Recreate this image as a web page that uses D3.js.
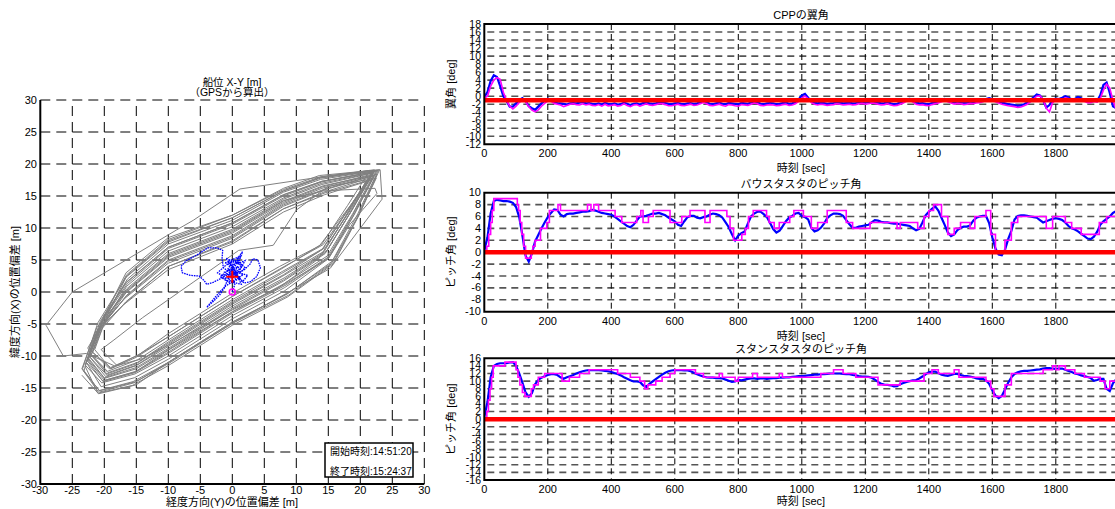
<!DOCTYPE html>
<html><head><meta charset="utf-8">
<script src="https://cdn.jsdelivr.net/npm/d3@7"></script>
<style>
body{margin:0;background:#fff;}
svg{display:block;font-family:"Liberation Sans",Arial,"Noto Sans CJK JP",sans-serif;}
</style></head><body>
<svg id="chart" width="1115" height="509"></svg>
<script>
// ===== XY position plot data =====
const posTicks = [-30,-25,-20,-15,-10,-5,0,5,10,15,20,25,30];
const posTickLabels = ["-30","-25","-20","-15","-10","-5","0","5","10","15","20","25","30"];

// gray reference tracks: one array of [Y, X] vertices per lap
const grayLaps = [
 [[-20,-13.5],[-22.5,-10.5],[-20.5,-5],[-16.5,0.5],[-10,6],[0,9.8],[8,14.5],[14,16.8],[22,18.6],[18.5,12.5],[14.5,6],[8,1.7],[0,-2.7],[-10,-9],[-15,-12],[-20,-13.5]],
 [[-19,-12],[-21.5,-9],[-19.5,-3.5],[-16.5,2.5],[-10,8],[0,11.6],[8,15.8],[13.5,17.8],[21.5,19],[18,13.5],[14,7.5],[7.5,3.5],[0,-0.7],[-10,-7],[-15,-10.2],[-19,-12]],
 [[-21,-15.5],[-23.5,-12],[-21.5,-6.5],[-16.5,-1.5],[-10,4],[0,8],[8,13],[14.5,15.5],[22.5,17.8],[19.5,11.5],[15.5,4.5],[8.5,-0.3],[0,-4.7],[-10,-11],[-15,-14],[-21,-15.5]],
 [[-20.5,-14.8],[-22.8,-11],[-20.6,-4.5],[-16.6,1.5],[-10,7],[0,10.8],[8,15.2],[14,17.3],[22.4,18.8],[19,12],[15,5.2],[8.2,0.2],[0,-4.2],[-10,-10.5],[-15.3,-13.4],[-20.5,-14.8]],
 [[-19.5,-12.4],[-22,-9.8],[-20.5,-5.5],[-16.5,-0.5],[-10,5],[0,8.8],[8,13.8],[14,16.2],[21.6,18.2],[18,12.8],[14.2,6.8],[7.8,3.2],[0,-1.2],[-10,-7.5],[-14.8,-10.6],[-19.5,-12.4]],
 [[-21,-15.8],[-23,-11.6],[-20.2,-4.2],[-16.6,3],[-10,8.5],[0,12],[8,16.2],[13.6,18.2],[23,19.1],[19.8,12],[15.8,4.4],[8.6,-0.8],[0,-5.2],[-10,-11.5],[-15.6,-14.6],[-21,-15.8]],
 [[-19,-11.8],[-22.6,-8.8],[-21,-6],[-17,-2],[-10,3.5],[0,7.5],[8,12.5],[14.4,15.2],[21.4,17.4],[17.6,12.4],[13.6,7.2],[7.4,4],[0,-0.2],[-10,-6.5],[-14.6,-9.8],[-19,-11.8]],
 [[-19.6,-12.8],[-22.2,-9.6],[-20,-4],[-16.4,2],[-10,7.5],[0,11.2],[8,15.6],[13.8,17.6],[22.2,18.9],[18.6,13],[14.6,7],[8,2.7],[0,-1.7],[-10,-8],[-15,-11.2],[-19.6,-12.8]],
 [[-20.4,-14.2],[-23,-11.4],[-21,-5.8],[-16.8,-1],[-10,4.5],[0,8.4],[8,13.4],[14.2,15.9],[22.2,18.2],[18.8,12],[14.8,5.2],[8.2,0.7],[0,-3.7],[-10,-10],[-15.2,-12.8],[-20.4,-14.2]],
 [[-20.2,-14],[-22.6,-10.8],[-20.4,-4.6],[-16.4,1.3],[-10,6.8],[0,10.6],[8,15],[14,17.2],[22.6,18.9],[19.2,12.4],[15.2,5.6],[8.4,1.1],[0,-3.3],[-10,-9.6],[-15.2,-12.6],[-20.2,-14]],
 [[-19.6,-13],[-22.2,-10.2],[-20.4,-5.4],[-16.6,-0.1],[-10,5.4],[0,9.2],[8,14],[14,16.4],[21.8,18.4],[18.2,12.6],[14.4,6.4],[7.9,2.5],[0,-1.9],[-10,-8.2],[-14.9,-11.4],[-19.6,-13]],
 [[-20.8,-15.4],[-23.4,-12],[-21,-4.8],[-16.6,2.3],[-10,7.8],[0,11.6],[8,15.8],[13.8,17.8],[22.8,19],[19.6,12.2],[15.6,4.8],[8.6,-0.3],[0,-4.7],[-10,-11],[-15.5,-14],[-20.8,-15.4]],
 [[-19.4,-12.6],[-22.4,-9.6],[-20.8,-6.2],[-16.6,-1.5],[-10,4],[0,7.8],[8,13],[14.3,15.6],[21.4,17.8],[17.8,12.4],[14,6.6],[7.7,2.9],[0,-1.5],[-10,-7.8],[-14.8,-11],[-19.4,-12.6]],
 [[-19.2,-12],[-21.8,-9.4],[-20,-4.8],[-16.5,0.9],[-10,6.4],[0,10.2],[8,14.7],[14,17],[21.8,18.6],[18.2,13],[14.2,7.4],[7.6,3.7],[0,-0.7],[-10,-7],[-15,-10],[-19.2,-12]],
 [[-20.6,-15.6],[-23.2,-12.4],[-21.2,-5.6],[-16.5,0.1],[-10,5.6],[0,9.4],[8,14.2],[14.2,16.6],[22.6,18.4],[19.6,11.8],[15.8,4.6],[8.8,-0.5],[0,-4.9],[-10,-11.2],[-15.4,-14.2],[-20.6,-15.6]],
 [[-19.8,-13.2],[-22.4,-10],[-20,-3.6],[-16.5,2.7],[-10,8.2],[0,12],[8,16],[13.8,18],[22.2,19.1],[18.8,13],[14.8,6.5],[8.1,2.2],[0,-2.2],[-10,-8.5],[-15,-11.5],[-19.8,-13.2]],
 [[-20,-13.4],[-22.5,-10.3],[-20.4,-4.4],[-16.5,1.5],[-10,7],[0,10.8],[8,15.2],[14,17.3],[22.2,18.8],[18.7,12.8],[14.6,6.2],[8,1.9],[0,-2.5],[-10,-8.8],[-15,-11.8],[-20,-13.4]],
 [[-20.2,-13.9],[-22.8,-11],[-20.8,-5.8],[-16.6,-0.7],[-10,4.8],[0,8.6],[8,13.6],[14.2,16],[22,18.2],[18.8,12.2],[14.8,5.6],[8.1,1.3],[0,-3.1],[-10,-9.4],[-15.1,-12.4],[-20.2,-13.9]],
 [[-18,-11.5],[-20.5,-9],[-18.5,-7.5],[-14,-4],[-6,1.6],[1,6.5],[6.4,7.3],[10,12.8],[15,16.5],[21,17.5],[17.5,11.5],[13.5,5.2],[7,0.5],[0,-2.8],[-9,-7.8],[-14,-10.4],[-18,-11.5]],
 [[-18.5,-11.5],[-22.8,-9.6],[-26.4,-10],[-29.1,-5.2],[-25,0],[-8.7,9.7],[-6.1,11.2],[1.2,16.1],[14.7,18.1],[23.1,19.1],[23.4,14.5],[15.3,3.7],[8.5,-0.2],[0,-4.9],[-10,-11],[-15,-14.5],[-20.9,-15.9],[-23.5,-13]],
 [[-20,-13.8],[-22.6,-10.6],[-20.6,-5.4],[-16.6,0.2],[-10,5.8],[0,9.6],[8,14.3],[14.2,15.8],[22.3,16.2],[22.6,15.4],[18.4,10.6],[15,5.2],[8.2,1.2],[0,-3.1],[-10,-9.1],[-15.2,-12.5],[-20,-13.8]]
];

// own-ship track [Y, X]
const shipTrack = [[0,0],[0.4,1.2],[-0.5,2.0],[0.8,2.8],[-0.3,3.5],[1.2,2.2],[0.2,1.6],[-1.0,1.0],[-2.0,-0.5],[-3.0,-1.5],[-4.0,-2.4],[-2.5,-0.6],[-1.2,0.8],[-0.6,2.2],[0.6,3.6],[1.5,4.2],[0.8,5.2],[1.6,6.3],[1.0,4.6],[2.0,3.8],[1.2,3.0],[2.4,2.6],[1.6,1.6],[0.4,2.6],[-0.8,3.4],[-0.2,4.4],[0.6,3.0],[-1.6,2.6],[-0.9,1.8],[1.4,1.2],[0.2,3.9],[-1.2,4.6],[0.9,4.8],[-0.4,2.9],
 [0.5,2.1],[-1.2,3.1],[0.9,3.9],[-0.7,4.8],[1.3,5.6],[0.1,4.0],[-1.9,2.4],[-0.4,1.4],[1.7,2.7],[0.3,3.3],[-1.0,5.3],[0.8,4.4],[2.0,4.9],[1.1,3.3],[-0.8,2.1],[-2.3,3.0],[-1.1,4.1],[0.4,5.0],[1.5,3.9],[-0.2,2.6],
 [1.8,3.4],[2.8,4.4],[3.2,5.2],[4.0,5.0],[4.4,3.8],[3.8,2.4],[2.8,1.6],[1.8,1.4],[1.0,2.4],[-0.4,3.0],[-1.4,3.8],[-1.6,5.2],[-1.5,6.5],[-2.4,6.9],[-3.8,6.9],[-5.5,5.8],[-7.2,4.9],[-8.0,4.0],[-7.8,3.0],[-6.6,2.6],[-5.2,2.5],[-4.4,1.8],[-4.0,1.2],[-3.0,1.5],[-2.0,2.0],[-1.0,2.6],[0.0,2.4]];
const meanPos = [0, 2.4];
const startPos = [0, 0];
const startTime = "開始時刻:14:51:20";
const endTime = "終了時刻:15:24:37";

// ===== time series data =====
const timeTicks = [0,200,400,600,800,1000,1200,1400,1600,1800];
const sampleTimes = d3.range(0, 2000, 10);

const cppTicks = [18,16,14,12,10,8,6,4,2,0,-2,-4,-6,-8,-10,-12];
const cppMeasured = [-0.2,1.0,3.8,5.2,4.8,2.5,0.0,-1.2,-2.6,-2.6,-1.8,-1.0,-0.5,-1.2,-2.5,-3.0,-3.4,-2.6,-1.8,-1.2,
-0.6,-0.8,-1.5,-1.7,-1.8,-1.9,-2.1,-1.8,-1.7,-1.8,-1.6,-1.5,-1.8,-1.7,-1.9,-2.0,-1.8,-2.1,-1.7,-1.9,
-2.0,-1.8,-2.1,-2.0,-1.6,-1.9,-2.2,-1.9,-1.8,-2.1,-1.7,-1.6,-1.8,-1.9,-1.8,-1.6,-1.5,-1.7,-1.9,-2.0,
-1.8,-1.7,-1.9,-2.0,-1.8,-1.7,-1.9,-1.8,-1.6,-1.2,-1.5,-1.9,-2.0,-1.8,-1.6,-1.9,-2.0,-1.7,-1.8,-1.9,
-2.0,-1.7,-1.8,-1.9,-1.6,-1.3,-1.5,-1.9,-2.0,-1.8,-1.7,-1.8,-2.0,-1.9,-1.7,-1.6,-1.9,-1.8,-1.5,-0.8,
0.2,0.6,-0.4,-1.2,-1.6,-1.8,-1.6,-1.7,-1.9,-1.8,-1.7,-1.5,-1.6,-1.8,-1.7,-1.6,-1.8,-1.7,-1.5,-1.4,
-1.6,-1.5,-1.3,-1.4,-1.6,-1.8,-1.7,-1.5,-1.8,-2.0,-1.9,-1.6,-1.3,-0.8,-0.7,-1.2,-1.6,-1.8,-1.7,-1.9,
-2.0,-1.7,-1.5,-1.3,-1.0,-0.7,-1.0,-1.3,-1.6,-1.4,-1.5,-1.7,-1.6,-1.4,-1.5,-1.3,-1.2,-1.0,-0.7,-0.5,
-0.7,-1.0,-1.3,-1.6,-1.8,-2.0,-2.1,-2.2,-2.4,-2.3,-2.0,-1.6,-1.0,-0.3,0.4,0.2,-1.0,-2.8,-2.2,-0.8,
-0.6,-0.7,-0.4,0.0,-0.3,-0.8,-0.7,-0.2,-0.5,-1.0,-1.3,-1.2,-0.9,-1.2,0.2,2.8,3.4,0.8,-2.5,-3.0];
const cppCommand = [-0.5,0.0,2.5,4.0,4.6,4.2,1.0,-1.0,-2.5,-3.2,-2.5,-1.6,-1.0,-1.4,-2.6,-3.5,-3.9,-3.4,-2.5,-1.8,
-1.2,-1.3,-1.8,-2.0,-2.2,-2.6,-2.3,-2.0,-1.9,-2.1,-2.2,-1.9,-2.2,-2.0,-2.3,-2.4,-2.1,-2.5,-2.0,-2.4,
-2.3,-2.1,-2.5,-2.3,-1.9,-2.3,-2.6,-2.2,-2.1,-2.5,-2.2,-1.9,-2.2,-2.3,-2.1,-1.9,-1.9,-2.1,-2.4,-2.4,
-2.2,-2.0,-2.3,-2.4,-2.2,-2.0,-2.3,-2.2,-1.9,-1.6,-1.9,-2.3,-2.4,-2.2,-2.0,-2.3,-2.5,-2.1,-2.2,-2.4,
-2.5,-2.1,-2.2,-2.3,-2.0,-1.7,-1.9,-2.3,-2.4,-2.2,-2.1,-2.2,-2.4,-2.3,-2.1,-2.0,-2.3,-2.2,-1.9,-1.3,
-0.4,0.0,-0.6,-1.6,-2.0,-2.2,-2.0,-2.1,-2.3,-2.2,-2.1,-1.9,-2.0,-2.2,-2.1,-2.0,-2.2,-2.1,-1.9,-1.8,
-2.0,-1.9,-1.7,-1.8,-2.0,-2.2,-2.1,-1.9,-2.2,-2.4,-2.3,-2.0,-1.7,-1.2,-1.0,-1.5,-2.0,-2.2,-2.1,-2.3,
-2.4,-2.1,-1.9,-1.7,-1.4,-1.1,-1.4,-1.7,-2.0,-1.8,-1.9,-2.1,-2.0,-1.8,-1.9,-1.7,-1.6,-1.4,-1.1,-0.9,
-1.1,-1.4,-1.7,-2.0,-2.2,-2.4,-2.5,-2.6,-2.8,-2.7,-2.4,-2.0,-1.4,-0.7,0.0,0.1,-0.8,-3.0,-3.9,-1.6,
-1.0,-1.1,-0.8,-0.4,-0.6,-1.1,-1.1,-0.6,-0.8,-1.3,-1.6,-1.6,-1.3,-1.5,-0.6,1.5,3.0,2.0,-1.0,-3.4];
const cppReference = -1;

const bowTicks = [10,8,6,4,2,0,-2,-4,-6,-8,-10];
const bowMeasured = [0.3,2.5,6.5,8.6,8.8,8.7,8.6,8.6,8.5,8.3,7.6,5.9,2.8,-0.6,-1.6,-0.2,1.8,2.9,4.0,5.0,
5.9,6.6,7.2,7.1,6.3,6.0,6.4,6.5,6.5,6.6,6.7,6.8,6.8,6.9,7.1,7.0,6.8,6.6,6.5,6.4,
6.3,6.0,5.6,5.2,4.8,4.4,4.2,4.6,5.3,6.0,6.0,6.1,6.3,6.5,6.5,6.6,6.4,6.2,5.8,5.5,
5.2,4.6,4.4,5.2,5.9,6.1,6.1,5.8,5.7,5.9,6.0,6.3,6.5,6.4,6.2,5.8,5.0,4.2,3.0,2.0,
2.8,3.2,3.5,4.8,6.0,6.5,6.8,6.8,6.4,5.9,4.9,3.9,3.3,3.6,4.4,5.2,5.8,6.1,6.5,6.6,
6.1,5.9,5.5,4.1,3.5,3.7,4.1,4.8,5.7,6.2,6.5,6.5,6.4,6.1,5.4,4.7,4.1,4.1,4.3,4.4,
4.5,4.6,5.0,5.4,5.3,5.1,5.0,5.0,4.9,4.8,4.8,4.7,4.6,4.5,4.4,4.0,3.7,3.9,5.0,6.2,
6.8,7.3,7.7,7.0,5.8,4.6,3.3,2.7,3.0,3.7,4.1,4.3,4.3,4.5,5.3,5.8,6.0,6.1,6.1,4.9,
2.5,0.6,-0.4,-0.5,0.4,2.2,3.6,5.5,6.1,6.2,6.2,6.1,6.0,5.9,5.8,5.4,5.0,5.2,5.4,5.6,
5.7,5.6,5.4,5.0,4.4,4.0,3.8,3.5,3.1,2.7,2.3,2.2,2.6,3.4,4.6,5.2,5.6,6.0,6.6,6.9];
const bowCommand = [[0,0],[8,1],[14,3],[20,5],[25,7],[30,9],[104,8],[108,7],[113,5],[118,3],[124,1],[130,-1],[148,0],[153,1],[160,2],[177,4],[197,5],[205,7],[232,8],[240,7],[325,8],[336,7],[345,8],[360,7],[412,6],[433,5],[480,6],[493,7],[500,5],[517,6],[532,7],[585,5],[622,6],[648,7],[695,5],[711,7],[764,6],[774,4],[785,2],[811,3],[822,4],[832,6],[847,7],[889,6],[897,5],[913,4],[929,5],[962,6],[975,7],[1005,6],[1030,4],[1050,5],[1080,7],[1140,5],[1160,4],[1215,5],[1300,4],[1310,5],[1365,4],[1385,6],[1400,7],[1415,8],[1440,6],[1460,3],[1480,4],[1500,5],[1530,4],[1545,6],[1580,7],[1595,3],[1610,0],[1640,2],[1660,5],[1680,6],[1770,4],[1790,6],[1830,5],[1850,4],[1880,3],[1937,5],[1960,6],[1995,6]];
const bowReference = 0;

const sternTicks = [16,14,12,10,8,6,4,2,0,-2,-4,-6,-8,-10,-12,-14,-16];
const sternMeasured = [0.6,4.5,11.0,14.0,14.5,14.7,14.7,14.7,14.9,15.0,14.0,12.0,9.6,7.0,5.9,6.8,9.2,10.3,10.9,11.3,
11.6,11.8,11.8,11.6,11.0,10.6,11.0,11.3,11.6,12.0,12.3,12.6,12.8,12.9,12.9,12.9,12.9,12.8,12.7,12.6,
12.4,12.1,11.9,11.5,11.0,10.6,10.2,9.9,9.9,9.8,8.9,8.5,9.3,9.9,10.5,11.1,11.7,12.2,12.6,12.8,
12.9,12.9,12.9,12.8,12.8,12.6,12.2,11.8,11.5,11.2,11.0,10.9,10.9,10.8,10.8,10.7,10.4,10.1,9.8,9.9,
10.3,10.2,10.4,10.6,10.7,10.7,10.6,10.7,10.7,10.6,10.7,10.8,10.8,10.9,10.9,11.0,11.0,11.1,11.2,11.3,
11.3,11.4,11.5,11.6,11.7,11.7,11.8,11.8,11.9,12.0,12.0,12.0,12.0,11.9,11.8,11.8,11.6,11.5,11.3,11.2,
11.2,11.1,10.9,10.4,9.8,9.3,9.1,9.0,8.9,8.6,8.7,9.2,9.5,9.8,10.0,10.2,10.3,10.7,11.2,11.8,
12.3,12.5,12.5,12.1,11.7,11.5,11.4,11.6,11.9,11.9,11.6,11.4,11.3,11.2,11.0,10.7,10.6,10.6,10.2,9.3,
7.6,6.2,5.5,6.1,7.8,9.6,11.0,11.9,12.3,12.6,12.7,12.7,12.8,12.9,13.0,13.1,13.3,13.4,13.4,13.3,
13.2,13.3,13.3,13.0,12.7,12.4,12.0,11.8,11.5,11.3,11.1,10.8,10.1,10.3,10.6,10.6,8.0,7.4,9.4,10.5];
const sternCommand = [[0,0],[8,2],[13,5],[18,8],[23,11],[28,14],[65,15],[100,13],[106,11],[112,9],[120,7],[128,6],[148,8],[155,9],[170,11],[190,12],[245,10],[268,11],[300,12],[330,13],[420,12],[460,11],[490,10],[505,8],[515,9],[540,10],[560,11],[585,12],[600,13],[665,12],[690,11],[740,12],[750,11],[790,10],[800,11],[845,12],[860,11],[929,12],[939,11],[1060,12],[1100,13],[1130,12],[1170,11],[1240,9],[1310,10],[1385,12],[1410,13],[1430,12],[1480,13],[1495,11],[1580,10],[1595,8],[1605,6],[1640,9],[1660,12],[1760,13],[1790,14],[1800,13],[1810,14],[1830,13],[1860,12],[1890,11],[1940,10],[1955,8],[1970,10],[1995,10]];
const sternReference = 0;

// ===== drawing =====
const svg = d3.select("#chart");
svg.append("rect").attr("width", 1115).attr("height", 509).attr("fill", "#fff");

// ---- XY position plot ----
const xs = d3.scaleLinear().domain([-30, 30]).range([40.3, 424.3]);
const ys = d3.scaleLinear().domain([-30, 30]).range([484, 100]);
const gL = svg.append("g");

gL.selectAll("line.gv").data(posTicks.slice(1)).join("line").attr("class", "gv")
  .attr("x1", d => xs(d)).attr("x2", d => xs(d)).attr("y1", ys(-30)).attr("y2", ys(30))
  .attr("stroke", "#000").attr("stroke-width", 1).attr("stroke-dasharray", "10,6");
gL.selectAll("line.gh").data(posTicks.slice(1)).join("line").attr("class", "gh")
  .attr("y1", d => ys(d)).attr("y2", d => ys(d)).attr("x1", xs(-30)).attr("x2", xs(30))
  .attr("stroke", "#000").attr("stroke-width", 1).attr("stroke-dasharray", "10,6");

const xyLine = d3.line().x(d => xs(d[0])).y(d => ys(d[1]));
gL.selectAll("path.lap").data(grayLaps).join("path").attr("class", "lap")
  .attr("d", xyLine).attr("fill", "none").attr("stroke", "#808080").attr("stroke-width", 1);

gL.append("path").datum(shipTrack).attr("d", xyLine).attr("fill", "none")
  .attr("stroke", "#0000ff").attr("stroke-width", 1.3).attr("stroke-dasharray", "1.6,0.9");

gL.append("circle").attr("cx", xs(startPos[0])).attr("cy", ys(startPos[1])).attr("r", 3)
  .attr("fill", "none").attr("stroke", "#ff00ff").attr("stroke-width", 1.6);
const mx = xs(meanPos[0]), my = ys(meanPos[1]);
gL.append("path").attr("d", `M${mx - 6},${my}H${mx + 6}M${mx},${my - 6}V${my + 6}`)
  .attr("stroke", "#ff0000").attr("stroke-width", 2);

// axes lines
gL.append("path").attr("d", `M${xs(-30)},${ys(30)}V${ys(-30)}H${xs(30)}`)
  .attr("fill", "none").attr("stroke", "#000").attr("stroke-width", 2);

gL.selectAll("text.yl").data(posTicks).join("text").attr("class", "yl")
  .attr("x", 37).attr("y", d => ys(d) + 4).attr("text-anchor", "end")
  .attr("font-size", 11).text((d, i) => posTickLabels[i]);
gL.selectAll("text.xl").data(posTicks).join("text").attr("class", "xl")
  .attr("x", d => xs(d)).attr("y", 494).attr("text-anchor", "middle")
  .attr("font-size", 11).text((d, i) => posTickLabels[i]);

gL.append("text").attr("x", 232).attr("y", 86).attr("text-anchor", "middle").attr("font-size", 10.5).text("船位 X-Y [m]");
gL.append("text").attr("x", 232).attr("y", 96).attr("text-anchor", "middle").attr("font-size", 10.5).text("（GPSから算出）");
gL.append("text").attr("x", 232).attr("y", 506).attr("text-anchor", "middle").attr("font-size", 11).text("経度方向(Y)の位置偏差 [m]");
gL.append("text").attr("transform", "translate(19,292) rotate(-90)").attr("text-anchor", "middle").attr("font-size", 11).text("緯度方向(X)の位置偏差 [m]");

// start / end time box
gL.append("rect").attr("x", 325).attr("y", 443).attr("width", 88).attr("height", 34)
  .attr("fill", "#fff").attr("stroke", "#000").attr("stroke-width", 1.5);
gL.append("text").attr("x", 330).attr("y", 454.5).attr("font-size", 10).text(startTime);
gL.append("text").attr("x", 330).attr("y", 474.5).attr("font-size", 10).text(endTime);

// ---- time series panels ----
const xt = d3.scaleLinear().domain([0, 2000]).range([484.3, 1119.3]);

function panel(cfg) {
  const y = d3.scaleLinear().domain(cfg.domain).range([cfg.bottom, cfg.top]);
  const g = svg.append("g");
  const clipId = "clip" + cfg.id;
  svg.append("clipPath").attr("id", clipId).append("rect")
    .attr("x", xt(0)).attr("y", cfg.top).attr("width", xt(2000) - xt(0)).attr("height", cfg.bottom - cfg.top);

  // horizontal grid
  g.selectAll("line.h").data(cfg.ticks.slice(1, -1)).join("line").attr("class", "h")
    .attr("x1", xt(0)).attr("x2", xt(2000)).attr("y1", d => y(d)).attr("y2", d => y(d))
    .attr("stroke", "#555").attr("stroke-width", 1.6).attr("stroke-dasharray", "7,5").attr("stroke-dashoffset", -3);
  // vertical grid
  g.selectAll("line.v").data(timeTicks.slice(1)).join("line").attr("class", "v")
    .attr("x1", d => xt(d)).attr("x2", d => xt(d)).attr("y1", cfg.top).attr("y2", cfg.bottom)
    .attr("stroke", "#000").attr("stroke-width", 1).attr("stroke-dasharray", "6,4");

  const data = g.append("g").attr("clip-path", `url(#${clipId})`);
  const line = d3.line().x((d, i) => xt(sampleTimes[i])).y(d => y(d));
  data.append("path").datum(cfg.measured).attr("d", line).attr("fill", "none")
    .attr("stroke", "#0000ff").attr("stroke-width", 2.2);
  if (cfg.stepCommand) {
    const sl = d3.line().curve(d3.curveStepAfter).x(d => xt(d[0])).y(d => y(d[1]));
    data.append("path").datum(cfg.command).attr("d", sl).attr("fill", "none")
      .attr("stroke", "#ff00ff").attr("stroke-width", 1.6);
  } else {
    data.append("path").datum(cfg.command).attr("d", line).attr("fill", "none")
      .attr("stroke", "#ff00ff").attr("stroke-width", 1.6);
  }
  data.append("line").attr("x1", xt(0)).attr("x2", xt(2000)).attr("y1", y(cfg.reference)).attr("y2", y(cfg.reference))
    .attr("stroke", "#ff0000").attr("stroke-width", 4.5);

  // frame (top, left, bottom)
  g.append("path").attr("d", `M${xt(2000)},${cfg.top}H${xt(0)}V${cfg.bottom}H${xt(2000)}`)
    .attr("fill", "none").attr("stroke", "#000").attr("stroke-width", 2);

  g.selectAll("text.yt").data(cfg.ticks).join("text").attr("class", "yt")
    .attr("x", 481).attr("y", d => y(d) + 3.5).attr("text-anchor", "end").attr("font-size", cfg.tickFont)
    .text(d => String(d));
  g.selectAll("text.xt").data(timeTicks).join("text").attr("class", "xt")
    .attr("x", d => xt(d)).attr("y", cfg.bottom + 13).attr("text-anchor", "middle").attr("font-size", 11)
    .text(d => String(d));

  g.append("text").attr("x", 801).attr("y", cfg.top - 5).attr("text-anchor", "middle").attr("font-size", 11).text(cfg.title);
  g.append("text").attr("x", 801).attr("y", Math.min(cfg.bottom + 28, 505)).attr("text-anchor", "middle").attr("font-size", 11).text("時刻 [sec]");
  g.append("text").attr("transform", `translate(455,${(cfg.top + cfg.bottom) / 2}) rotate(-90)`)
    .attr("text-anchor", "middle").attr("font-size", 11).text(cfg.ylabel);
}

panel({id: 1, top: 24, bottom: 144.3, domain: [-12, 18], ticks: cppTicks, tickFont: 10.5, measured: cppMeasured,
  command: cppCommand, stepCommand: false, reference: cppReference, title: "CPPの翼角", ylabel: "翼角 [deg]"});
panel({id: 2, top: 192.7, bottom: 311.7, domain: [-10, 10], ticks: bowTicks, tickFont: 11, measured: bowMeasured,
  command: bowCommand, stepCommand: true, reference: bowReference, title: "バウスタスタのピッチ角", ylabel: "ピッチ角 [deg]"});
panel({id: 3, top: 358.3, bottom: 480, domain: [-16, 16], ticks: sternTicks, tickFont: 10.5, measured: sternMeasured,
  command: sternCommand, stepCommand: true, reference: sternReference, title: "スタンスタスタのピッチ角", ylabel: "ピッチ角 [deg]"});
</script>
</body></html>
